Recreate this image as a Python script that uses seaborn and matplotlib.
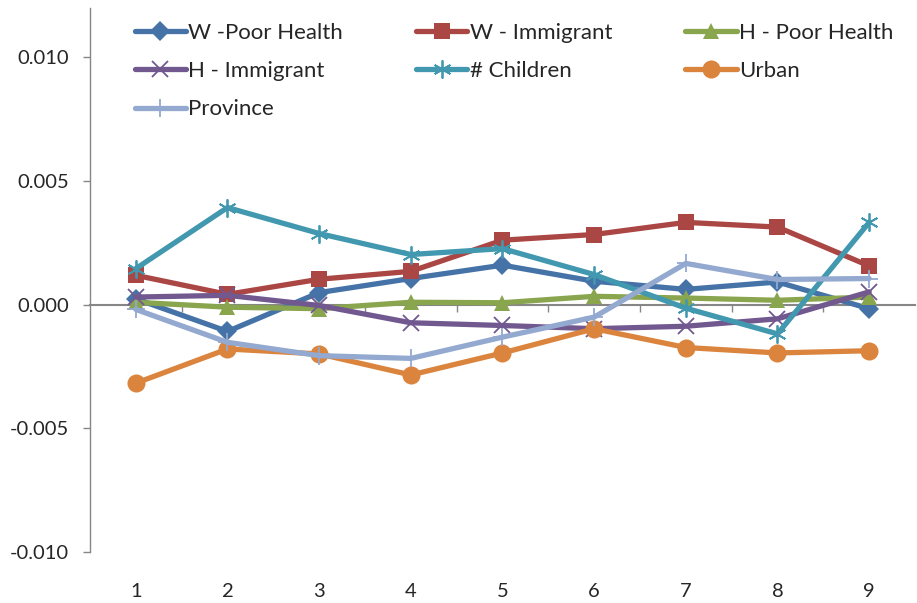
import matplotlib
matplotlib.use("Agg")
import matplotlib.pyplot as plt
import seaborn as sns
import numpy as np
import pandas as pd

# Category positions on the x axis
groups = [1, 2, 3, 4, 5, 6, 7, 8, 9]

# Series values
w_poor_health = [0.00024, -0.00108, 0.00049, 0.00106, 0.00160, 0.00095, 0.00062, 0.00092, -0.00016]
w_immigrant = [0.00119, 0.00042, 0.00103, 0.00135, 0.00261, 0.00284, 0.00333, 0.00314, 0.00157]
h_poor_health = [0.00010, -0.00010, -0.00016, 0.00010, 0.00008, 0.00034, 0.00027, 0.00018, 0.00031]
h_immigrant = [0.00031, 0.00038, -0.00003, -0.00073, -0.00084, -0.00097, -0.00087, -0.00057, 0.00052]
n_children = [0.00146, 0.00393, 0.00288, 0.00203, 0.00227, 0.00122, -0.00014, -0.00118, 0.00333]
urban = [-0.00317, -0.00179, -0.00199, -0.00284, -0.00195, -0.00097, -0.00173, -0.00195, -0.00186]
province = [-0.00019, -0.00152, -0.00206, -0.00217, -0.00131, -0.00050, 0.00167, 0.00102, 0.00106]

series_names = ["W -Poor Health", "W - Immigrant", "H - Poor Health",
                "H - Immigrant", "# Children", "Urban", "Province"]
y_ticks = [-0.010, -0.005, 0.000, 0.005, 0.010]

def main():
    sns.set_style("white")
    plt.rcParams["font.family"] = ["Lato", "DejaVu Sans"]
    plt.rcParams["axes.unicode_minus"] = False

    df = pd.DataFrame({"group": groups,
                       "W -Poor Health": w_poor_health,
                       "W - Immigrant": w_immigrant,
                       "H - Poor Health": h_poor_health,
                       "H - Immigrant": h_immigrant,
                       "# Children": n_children,
                       "Urban": urban,
                       "Province": province})
    long_df = df.melt(id_vars="group", var_name="series", value_name="value")

    # Excel 2007 style colours and markers
    styles = {
        "W -Poor Health": dict(color="#4572A7", marker="D", ms=10, mew=0),
        "W - Immigrant": dict(color="#AA4643", marker="s", ms=12, mew=0),
        "H - Poor Health": dict(color="#89A54E", marker="^", ms=12, mew=0),
        "H - Immigrant": dict(color="#71588F", marker="x", ms=12, mew=1.3),
        "# Children": dict(color="#4198AF", marker=(6, 2, 0), ms=13, mew=1.3),
        "Urban": dict(color="#DB843D", marker="o", ms=13, mew=0),
        "Province": dict(color="#93A9CF", marker="+", ms=13, mew=1.3),
    }

    fig = plt.figure(figsize=(9.17, 6.03), dpi=100)
    ax = fig.add_axes([90 / 917, 51 / 603, 825 / 917, 544 / 603])

    for name in series_names:
        st = styles[name]
        sub = long_df[long_df.series == name]
        sns.lineplot(data=sub, x="group", y="value", ax=ax, label=name,
                     color=st["color"], marker=st["marker"], markersize=st["ms"],
                     markeredgewidth=st["mew"], markeredgecolor=st["color"],
                     linewidth=3.8)

    ymin, ymax = -0.010, 0.012
    ax.set_xlim(0.5, 9.5)
    ax.set_ylim(ymin, ymax)
    ax.set_xlabel("")
    ax.set_ylabel("")

    # y axis
    ax.set_yticks(y_ticks)
    ax.set_yticklabels([f"{v:.3f}" for v in y_ticks])
    ax.tick_params(axis="y", direction="out", length=5, width=1, color="#868686",
                   labelsize=14.5, pad=10, left=True)

    # category labels at the bottom
    ax.set_xticks(groups)
    ax.set_xticklabels([str(g) for g in groups])
    ax.tick_params(axis="x", length=0, labelsize=14.5, pad=22)

    for side in ["top", "right", "bottom"]:
        ax.spines[side].set_visible(False)
    ax.spines["left"].set_color("#868686")
    ax.spines["left"].set_linewidth(1)

    # horizontal category axis line at zero, tick marks between categories
    zero_frac = (0 - ymin) / (ymax - ymin)
    sec = ax.secondary_xaxis(zero_frac)
    sec.set_xticks([g + 0.5 for g in groups[:-1]])
    sec.set_xticklabels([])
    sec.tick_params(direction="out", length=5, width=1, color="#868686")
    sec.spines["bottom"].set_color("#868686")
    sec.spines["bottom"].set_linewidth(1.5)
    for side in ["top", "left", "right"]:
        sec.spines[side].set_visible(False)

    # legend filled row by row, like the original
    handles, labels = ax.get_legend_handles_labels()
    order = [0, 3, 6, 1, 4, 2, 5]
    ax.legend([handles[i] for i in order], [labels[i] for i in order],
              loc="upper left", bbox_to_anchor=(126 / 917, 1 - 14 / 603),
              bbox_transform=fig.transFigure, ncol=3, frameon=False,
              fontsize=16, handlelength=2.3, handletextpad=0.1,
              columnspacing=3.3, labelspacing=0.82, borderaxespad=0)

    fig.savefig("out.png", dpi=100)

if __name__ == "__main__":
    main()
